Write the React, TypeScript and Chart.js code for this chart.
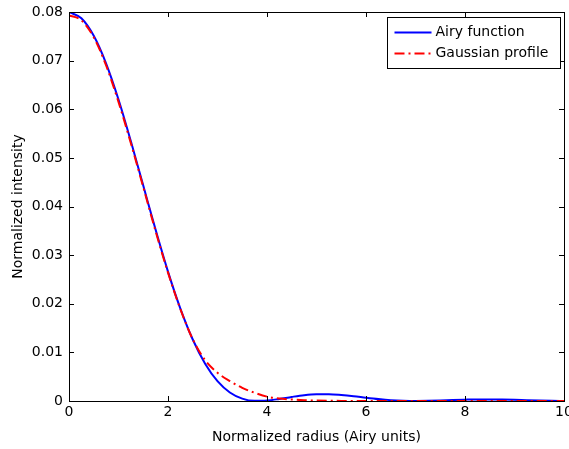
import React, { useEffect, useRef } from "react";
import { Chart, registerables } from "chart.js";

Chart.register(...registerables);

const radius = [
  0, 0.25, 0.5, 0.75, 1, 1.25, 1.5, 1.75, 2, 2.25, 2.5, 2.75, 3, 3.25, 3.5, 3.75,
  4, 4.25, 4.5, 4.75, 5, 5.25, 5.5, 5.75, 6, 6.25, 6.5, 6.75, 7, 7.25, 7.5, 7.75,
  8, 8.25, 8.5, 8.75, 9, 9.25, 9.5, 9.75, 10,
];

const airy = [
  0.08, 0.0787, 0.0751, 0.0694, 0.062, 0.0534, 0.0443, 0.0352, 0.0266, 0.019,
  0.01265, 0.00768, 0.00409, 0.00176, 0.00049, 0.00003, 0.00009, 0.00043, 0.00084,
  0.00119, 0.00137, 0.00138, 0.00123, 0.00099, 0.00068, 0.0004, 0.00018, 0.00005,
  0.0, 0.00003, 0.0001, 0.0002, 0.00028, 0.00033, 0.00033, 0.0003, 0.00024,
  0.00016, 0.00009, 0.00004, 0.00001,
];

const gaussian = [
  0.0793, 0.0783, 0.0748, 0.069, 0.0615, 0.053, 0.044, 0.0349, 0.0264, 0.0189,
  0.0127, 0.0084, 0.0058, 0.0041, 0.0027, 0.0017, 0.0009, 0.0005, 0.0003,
  0.00015, 0.00008, 0.00004, 0.00002, 0, 0, 0, 0, 0, 0, 0, 0, 0, 0, 0, 0, 0, 0,
  0, 0, 0, 0,
];

const seriesLabels = ["Airy function", "Gaussian profile"];
const xTickValues = [0, 2, 4, 6, 8, 10];
const yTickValues = [0, 0.01, 0.02, 0.03, 0.04, 0.05, 0.06, 0.07, 0.08];
const xTitle = "Normalized radius (Airy units)";
const yTitle = "Normalized intensity";

const FONT = "'DejaVu Sans', sans-serif";

const axesBoxPlugin = {
  id: "axesBox",
  afterDatasetsDraw(chart: any) {
    const { ctx, chartArea: a, scales } = chart;
    const tl = 5;
    ctx.save();
    ctx.strokeStyle = "#000";
    ctx.lineWidth = 1;
    ctx.beginPath();
    for (const v of xTickValues) {
      const x = Math.round(scales.x.getPixelForValue(v)) + 0.5;
      ctx.moveTo(x, a.bottom);
      ctx.lineTo(x, a.bottom - tl);
      ctx.moveTo(x, a.top);
      ctx.lineTo(x, a.top + tl);
    }
    for (const v of yTickValues) {
      const y = Math.round(scales.y.getPixelForValue(v)) + 0.5;
      ctx.moveTo(a.left, y);
      ctx.lineTo(a.left + tl, y);
      ctx.moveTo(a.right, y);
      ctx.lineTo(a.right - tl, y);
    }
    ctx.stroke();
    ctx.strokeRect(
      Math.round(a.left) + 0.5,
      Math.round(a.top) + 0.5,
      Math.round(a.right - a.left),
      Math.round(a.bottom - a.top)
    );
    ctx.restore();
  },
  afterDraw(chart: any) {
    const { ctx, chartArea: a } = chart;
    const w = 173;
    const h = 51;
    const bx = Math.round(a.right - 4 - w) + 0.5;
    const by = Math.round(a.top + 5) + 0.5;
    ctx.save();
    ctx.fillStyle = "#fff";
    ctx.fillRect(bx, by, w, h);
    ctx.strokeStyle = "#000";
    ctx.lineWidth = 1;
    ctx.strokeRect(bx, by, w, h);
    ctx.font = `14px ${FONT}`;
    ctx.textBaseline = "middle";
    ctx.textAlign = "left";
    chart.data.datasets.forEach((ds: any, i: number) => {
      const cy = by + 15 + i * 21;
      ctx.beginPath();
      ctx.strokeStyle = ds.borderColor;
      ctx.lineWidth = ds.borderWidth;
      ctx.setLineDash(ds.borderDash || []);
      ctx.moveTo(bx + 7, cy);
      ctx.lineTo(bx + 44, cy);
      ctx.stroke();
      ctx.setLineDash([]);
      ctx.fillStyle = "#000";
      ctx.fillText(ds.label, bx + 48, cy);
    });
    ctx.restore();
  },
};

export default function App() {
  const ref = useRef<HTMLCanvasElement | null>(null);
  useEffect(() => {
    document.body.style.margin = "0";
    const canvas = ref.current;
    if (!canvas) return;
    const chart = new Chart(canvas, {
      type: "line",
      data: {
        datasets: [
          {
            label: seriesLabels[0],
            data: radius.map((r, i) => ({ x: r, y: airy[i] })),
            borderColor: "#0000ff",
            borderWidth: 2,
            pointRadius: 0,
            cubicInterpolationMode: "monotone",
            order: 1,
          },
          {
            label: seriesLabels[1],
            data: radius.map((r, i) => ({ x: r, y: gaussian[i] })),
            borderColor: "#ff0000",
            borderWidth: 2,
            borderDash: [10, 4, 2, 4],
            pointRadius: 0,
            cubicInterpolationMode: "monotone",
            order: 0,
          },
        ],
      },
      options: {
        animation: false,
        responsive: false,
        events: [],
        layout: { padding: { top: 12, right: 5, left: 0, bottom: 0 } },
        plugins: { legend: { display: false }, tooltip: { enabled: false } },
        scales: {
          x: {
            type: "linear",
            min: 0,
            max: 10,
            border: { display: false },
            grid: { display: false, drawTicks: false },
            afterBuildTicks: (s: any) => {
              s.ticks = xTickValues.map((v) => ({ value: v }));
            },
            afterFit: (s: any) => {
              s.height = 48;
              s.paddingLeft = 0;
              s.paddingRight = 0;
            },
            ticks: {
              padding: 3,
              color: "#000",
              font: { family: FONT, size: 14 },
              maxRotation: 0,
              autoSkip: false,
              callback: (v: any) => String(v),
            },
            title: {
              display: true,
              text: xTitle,
              color: "#000",
              font: { family: FONT, size: 14 },
              padding: { top: 0, bottom: 3 },
            },
          },
          y: {
            type: "linear",
            min: 0,
            max: 0.08,
            border: { display: false },
            grid: { display: false, drawTicks: false },
            afterBuildTicks: (s: any) => {
              s.ticks = yTickValues.map((v) => ({ value: v }));
            },
            afterFit: (s: any) => {
              s.width = 69;
              s.paddingTop = 0;
              s.paddingBottom = 0;
            },
            ticks: {
              padding: 6,
              color: "#000",
              font: { family: FONT, size: 14 },
              autoSkip: false,
              callback: (v: any) => (v === 0 ? "0" : Number(v).toFixed(2)),
            },
            title: {
              display: true,
              text: yTitle,
              color: "#000",
              font: { family: FONT, size: 14 },
              padding: { top: 10, bottom: 0 },
            },
          },
        },
      },
      plugins: [axesBoxPlugin],
    } as any);
    return () => chart.destroy();
  }, []);
  return (
    <div style={{ width: 569, height: 449, background: "#fff" }}>
      <canvas ref={ref} width={569} height={449} style={{ display: "block" }} />
    </div>
  );
}
